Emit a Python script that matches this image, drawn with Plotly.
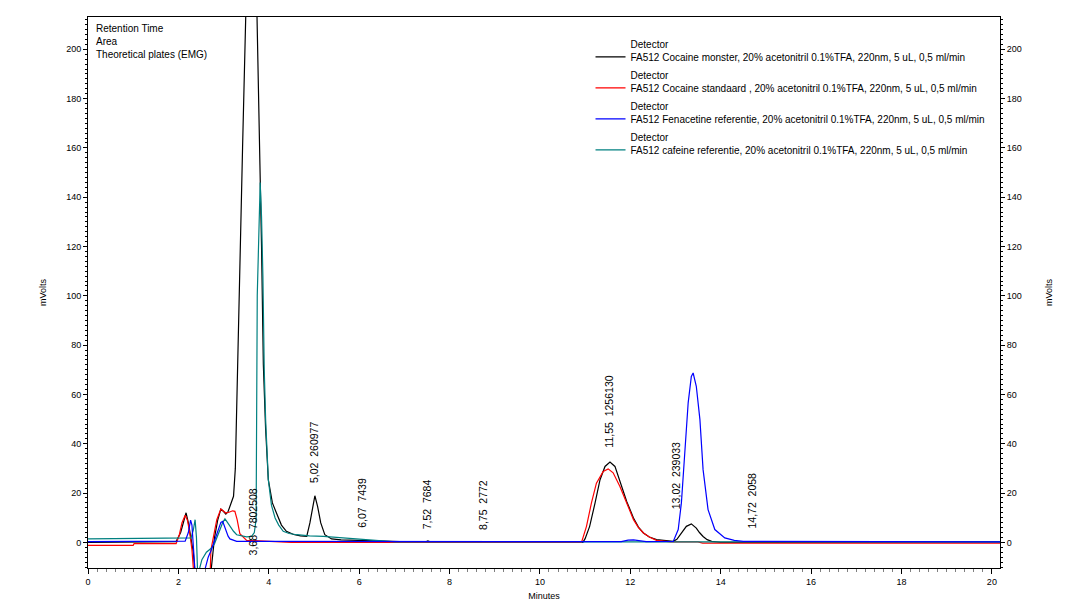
import plotly.graph_objects as go

# ---------------- data ----------------
series_names = [
    "Detector<br>FA512 Cocaine monster, 20% acetonitril 0.1%TFA, 220nm, 5 uL, 0,5 ml/min",
    "Detector<br>FA512 Cocaine standaard , 20% acetonitril 0.1%TFA, 220nm, 5 uL, 0,5 ml/min",
    "Detector<br>FA512 Fenacetine referentie, 20% acetonitril 0.1%TFA, 220nm, 5 uL, 0,5 ml/min",
    "Detector<br>FA512 cafeine referentie, 20% acetonitril 0.1%TFA, 220nm, 5 uL, 0,5 ml/min",
]
series_colors = ["#000000", "#ff0000", "#0000ff", "#008080"]

black_t = [0, 0.5, 1.0, 1.5, 1.95, 2.05, 2.12, 2.17, 2.22, 2.28, 2.33, 2.38, 2.45, 2.6, 2.68,
           2.72, 2.80, 2.87, 2.94, 3.0, 3.05, 3.10, 3.14, 3.18, 3.22, 3.26, 3.30, 3.36, 3.42, 3.49,
           3.62, 3.74, 3.80, 3.84, 3.88, 3.93, 3.99, 4.08, 4.17, 4.28, 4.39, 4.55, 4.70, 4.84,
           4.91, 4.97, 5.02, 5.08, 5.15, 5.24, 5.39, 5.6, 5.94, 6.5, 7.0, 7.45, 7.52, 7.6, 8.0,
           10.95, 11.0, 11.1, 11.22, 11.33, 11.44, 11.55, 11.66, 11.77, 11.92, 12.07, 12.18,
           12.29, 12.42, 12.58, 12.85, 12.95, 13.03, 13.10, 13.17, 13.24, 13.35, 13.46, 13.53,
           13.61, 13.70, 13.80, 14.0, 14.6, 20.2]
black_v = [0, 0, 0, 0, 0.3, 4, 9, 12, 8, 2, -4, -15, -15, -15, -15,
           -12, 2, 9, 13.5, 12.5, 11.5, 12.5, 14.6, 16, 18.7, 30, 66, 110, 160, 213,
           480, 213, 165, 120, 72, 46, 25.4, 16, 11.9, 7, 4.5, 3.2, 2.6, 2.4,
           7.9, 14.6, 18.9, 14.6, 7.9, 3.1, 1.4, 1.0, 0.8, 0.3, 0, 0, 0.6, 0, 0,
           0, 1.5, 6.5, 16, 25.4, 30.8, 32.6, 30.8, 24.7, 16.6, 9.9, 6.2,
           3.8, 2.2, 1.1, 0.4, 0.4, 1.2, 3.1, 5.0, 6.5, 7.5, 5.8, 4.0,
           2.4, 1.1, 0.4, 0, 0, 0.2]

red_t = [0, 1.0, 1.02, 1.95, 2.02, 2.08, 2.15, 2.20, 2.25, 2.30, 2.35, 2.70, 2.72, 2.78,
         2.85, 2.94, 3.0, 3.05, 3.12, 3.20, 3.25, 3.30, 3.36, 3.45, 3.51, 3.9, 4.5, 10.92,
         11.03, 11.14, 11.25, 11.40, 11.51, 11.62, 11.77, 11.92, 12.07, 12.18, 12.29, 12.42,
         12.58, 12.9, 13.5, 13.6, 20.2]
red_v = [-1.2, -1.2, -0.5, -0.5, 3, 8, 11, 9, 4, -3, -15, -15, -3, 3,
         9.2, 13.5, 12.8, 11.9, 12.2, 12.8, 12.6, 9.2, 3.5, 1.8, 0.8, 0.5, 0, 0,
         6.5, 16, 24, 28.8, 29.8, 28.2, 22.7, 16, 9.2, 6.0, 3.8, 2.2,
         0.8, 0.2, 0.2, -0.3, -0.3]

blue_t = [0, 2.15, 2.22, 2.27, 2.30, 2.34, 2.38, 2.53, 2.60, 2.66, 2.73, 2.79, 2.84, 2.90,
          2.94, 2.98, 3.02, 3.05, 3.10, 3.14, 3.29, 11.8, 11.95, 12.07, 12.2, 12.35, 12.95,
          13.06, 13.13, 13.20, 13.28, 13.35, 13.39, 13.46, 13.54, 13.61, 13.72, 13.87, 14.09,
          14.3, 14.50, 20.2]
blue_v = [0.3, 0.5, 4, 9, 7, -3, -15, -15, -10, -6, -3, 0, 2.4, 6,
          8.1, 8.5, 6.5, 4.5, 2.5, 1.4, 0.4, 0.3, 0.9, 1.0, 0.8, 0.3, 0.4,
          5.2, 16, 36.3, 56.6, 67.3, 68.7, 63.3, 49.8, 29.5, 13.3, 5.2, 1.8,
          0.8, 0.4, 0.2]

teal_t = [0, 2.28, 2.33, 2.37, 2.40, 2.43, 2.45, 2.52, 2.62, 2.72, 2.80, 2.86, 2.92, 2.98,
          3.03, 3.07, 3.14, 3.22, 3.29, 3.40, 3.51, 3.62, 3.68, 3.71, 3.72, 3.745, 3.78,
          3.81, 3.84, 3.87, 3.90, 3.93, 3.99, 4.06, 4.14, 4.22, 4.32, 4.45, 4.62, 4.9, 5.21,
          5.6, 5.94, 6.53, 6.8, 20.2]
teal_v = [1.4, 1.8, 5, 9.2, 2, -15, -12, -7, -4, -2.5, -0.5, 2, 5.1, 8,
          9.5, 8.5, 6.5, 4.5, 3.1, 2.5, 2.2, 2.4, 4, 8, 10, 100, 127,
          146, 132, 108, 70, 50, 25.4, 15, 9.9, 7, 4.5, 3.6, 3.1, 2.6, 2.4,
          1.9, 1.4, 0.4, 0.2, 0.2]

# peak labels: retention time, area
peak_rt = [3.68, 5.02, 6.07, 7.52, 8.75, 11.55, 13.02, 14.72]
peak_rt_text = ["3,68", "5,02", "6,07", "7,52", "8,75", "11,55", "13,02", "14,72"]
peak_area = ["7802508", "260977", "7439", "7684", "2772", "1256130", "239033", "2058"]
label_base_mv = [-6.2, 23.4, 5.2, 4.4, 4.4, 37.6, 12.6, 4.9]

info_lines = ["Retention Time", "Area", "Theoretical plates (EMG)"]

# ---------------- figure ----------------
FONT = "Liberation Sans, Arial, sans-serif"
YR = [-10.4, 213.1]
XR = [0, 20.18]

fig = go.Figure()
all_t = [black_t, red_t, blue_t, teal_t]
all_v = [black_v, red_v, blue_v, teal_v]
draw_order = [0, 1, 3, 2]  # blue drawn on top
for i in draw_order:
    fig.add_trace(go.Scatter(
        x=all_t[i], y=all_v[i], mode="lines", name=series_names[i],
        line=dict(color=series_colors[i], width=1.2), legendrank=i + 1,
        legendgroup=f"g{i}",
    ))

# dummy trace so the right axis gets drawn
fig.add_trace(go.Scatter(x=[XR[0]], y=[0], yaxis="y2", mode="lines",
                         showlegend=False, hoverinfo="skip", line=dict(width=0)))

for rt, rtt, area, base in zip(peak_rt, peak_rt_text, peak_area, label_base_mv):
    fig.add_annotation(x=rt, y=base, text=f"{rtt}\u00a0\u00a0{area}", textangle=-90,
                       showarrow=False, xanchor="center", yanchor="bottom", xshift=-1,
                       font=dict(family=FONT, size=10.5, color="black"))

for k, line in enumerate(info_lines):
    fig.add_annotation(x=0, y=1, xref="paper", yref="paper", text=line, showarrow=False,
                       xanchor="left", yanchor="top", xshift=6, yshift=-4 - 13 * k,
                       font=dict(family=FONT, size=10, color="black"))

axis_common = dict(showline=True, linecolor="black", linewidth=1, showgrid=False,
                   zeroline=False, ticks="outside", tickcolor="black", automargin=False,
                   tickfont=dict(family=FONT, size=9, color="black"))

fig.update_layout(
    width=1090, height=614, autosize=False,
    margin=dict(l=88, r=90, t=17, b=46),
    paper_bgcolor="white", plot_bgcolor="white",
    font=dict(family=FONT, size=10, color="black"),
    xaxis=dict(range=XR, dtick=2, tick0=0, ticklen=5, mirror=True,
               title=dict(text="Minutes", font=dict(family=FONT, size=9), standoff=6),
               minor=dict(dtick=0.2, ticklen=3, tickcolor="#808080", ticks="outside"),
               **axis_common),
    yaxis=dict(range=YR, dtick=20, tick0=0, ticklen=4,
               title=dict(text="mVolts", font=dict(family=FONT, size=9), standoff=18),
               minor=dict(dtick=2, ticklen=2, tickcolor="black", ticks="outside"),
               **axis_common),
    yaxis2=dict(range=YR, dtick=20, tick0=0, ticklen=4, overlaying="y", side="right",
                title=dict(text="mVolts", font=dict(family=FONT, size=9), standoff=24),
                minor=dict(dtick=2, ticklen=2, tickcolor="black", ticks="outside"),
                **axis_common),
    legend=dict(x=0.551, y=0.975, xanchor="left", yanchor="top", bgcolor="rgba(0,0,0,0)",
                valign="bottom", font=dict(family=FONT, size=10, color="black"),
                traceorder="grouped", tracegroupgap=2),
    showlegend=True,
)

fig.write_html("out.html", config={"displayModeBar": False},
               post_script="document.body.style.margin='0px';")
